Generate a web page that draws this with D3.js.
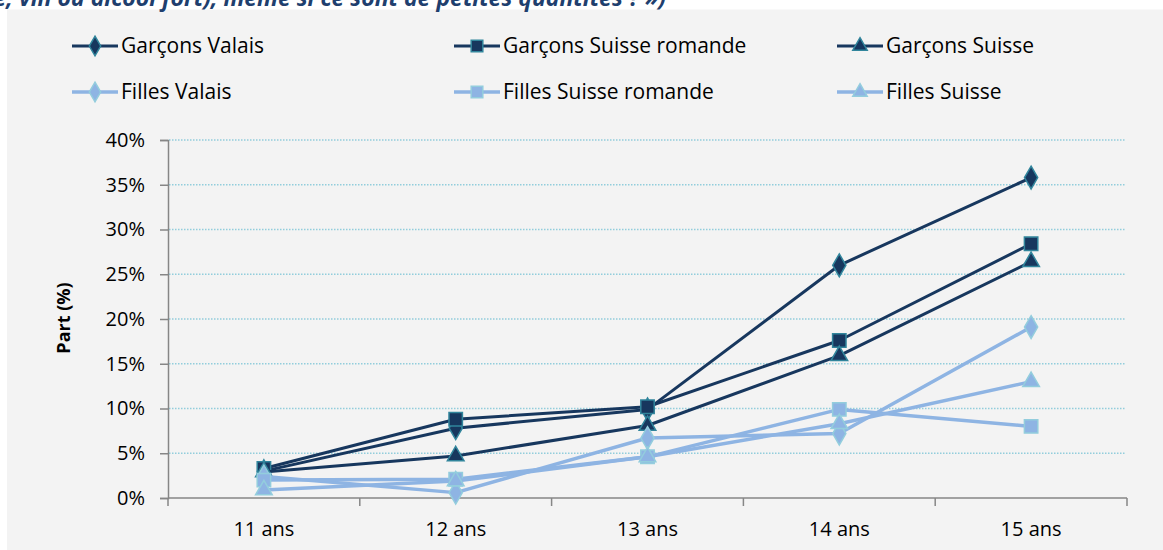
<!DOCTYPE html>
<html>
<head>
<meta charset="utf-8">
<script src="https://cdn.jsdelivr.net/npm/d3@7"></script>
<style>
  body { margin: 0; background: #fff; }
  svg { display: block; font-family: "Open Sans", sans-serif; }
</style>
</head>
<body>
<svg id="chart" width="1163" height="550"></svg>
<script>
const categories = ["11 ans", "12 ans", "13 ans", "14 ans", "15 ans"]
const yTicks = [0, 5, 10, 15, 20, 25, 30, 35, 40]

const garconsValais = [3.0, 7.8, 9.9, 26.0, 35.8]
const garconsRomande = [3.3, 8.8, 10.2, 17.6, 28.4]
const garconsSuisse = [2.9, 4.7, 8.1, 15.9, 26.4]
const fillesValais = [2.4, 0.6, 6.7, 7.2, 19.1]
const fillesRomande = [2.0, 2.1, 4.6, 9.9, 8.0]
const fillesSuisse = [0.9, 1.9, 4.6, 8.3, 13.0]

const seriesNames = ["Garçons Valais", "Garçons Suisse romande", "Garçons Suisse",
  "Filles Valais", "Filles Suisse romande", "Filles Suisse"]

const dark = { line: "#17375e", fill: "#17375e", stroke: "#31859c", width: 3 }
const light = { line: "#8eb4e3", fill: "#8eb4e3", stroke: "#93cddd", width: 3.5 }

const series = [
  { name: seriesNames[0], values: garconsValais, shape: d3.symbolDiamond, style: dark },
  { name: seriesNames[1], values: garconsRomande, shape: d3.symbolSquare, style: dark },
  { name: seriesNames[2], values: garconsSuisse, shape: d3.symbolTriangle, style: dark },
  { name: seriesNames[3], values: fillesValais, shape: d3.symbolDiamond, style: light },
  { name: seriesNames[4], values: fillesRomande, shape: d3.symbolSquare, style: light },
  { name: seriesNames[5], values: fillesSuisse, shape: d3.symbolTriangle, style: light }
]

const svg = d3.select("#chart")

// panel background and the end of the question text above it (cut off, as in the page)
svg.append("rect").attr("x", 7).attr("y", 9.5).attr("width", 1163).attr("height", 550).attr("fill", "#f3f3f3")
svg.append("text")
  .attr("x", 666).attr("y", 5.5)
  .attr("text-anchor", "end")
  .attr("font-size", 23).attr("font-weight", "bold").attr("font-style", "italic")
  .attr("fill", "#1f3f6e")
  .text("(bière, vin ou alcool fort), même si ce sont de petites quantités ? »)")

const x = d3.scaleBand().domain(categories).range([168, 1127])
const y = d3.scaleLinear().domain([0, 40]).range([498, 140])
const cx = (i) => x(categories[i]) + x.bandwidth() / 2

// gridlines
svg.append("g").selectAll("line")
  .data(yTicks.filter((t) => t > 0))
  .join("line")
  .attr("x1", 169).attr("x2", 1126)
  .attr("y1", (d) => y(d)).attr("y2", (d) => y(d))
  .attr("stroke", "#92cddc").attr("stroke-width", 1.3).attr("stroke-dasharray", "1.5,1.5")

// y axis
const gy = svg.append("g").attr("transform", "translate(168,0)")
  .call(d3.axisLeft(y).tickValues(yTicks).tickFormat((d) => d + "%").tickSize(8).tickPadding(15))
gy.select(".domain").attr("stroke", "#868686").attr("stroke-width", 1.5)
gy.selectAll(".tick line").attr("stroke", "#868686").attr("stroke-width", 1.5)
gy.selectAll(".tick text").attr("font-size", 20).attr("fill", "#000").attr("font-family", "Open Sans")

// x axis: labels centred, ticks on band boundaries
const gx = svg.append("g").attr("transform", "translate(0,498)")
  .call(d3.axisBottom(x).tickSize(0).tickPadding(24))
gx.select(".domain").remove()
gx.selectAll(".tick text").attr("font-size", 20).attr("fill", "#000").attr("font-family", "Open Sans")
svg.append("line").attr("x1", 168).attr("x2", 1127).attr("y1", 498).attr("y2", 498)
  .attr("stroke", "#868686").attr("stroke-width", 1.5)
const bounds = categories.map((c) => x(c)).concat([x.range()[1]])
svg.append("g").selectAll("line").data(bounds).join("line")
  .attr("x1", (d) => d).attr("x2", (d) => d).attr("y1", 498).attr("y2", 506)
  .attr("stroke", "#868686").attr("stroke-width", 1.5)

svg.append("text")
  .attr("transform", "translate(70,318) rotate(-90)")
  .attr("text-anchor", "middle")
  .attr("font-size", 18).attr("font-weight", "bold")
  .text("Part (%)")

const line = d3.line().x((d, i) => cx(i)).y((d) => y(d))
const symbolSize = (shape) => shape === d3.symbolDiamond ? 150 : shape === d3.symbolTriangle ? 120 : 180

series.forEach((s) => {
  const g = svg.append("g")
  g.append("path").attr("d", line(s.values))
    .attr("fill", "none").attr("stroke", s.style.line).attr("stroke-width", s.style.width)
    .attr("stroke-linejoin", "round")
  g.selectAll("path.mk").data(s.values).join("path").attr("class", "mk")
    .attr("transform", (d, i) => `translate(${cx(i)},${y(d)})`)
    .attr("d", d3.symbol().type(s.shape).size(symbolSize(s.shape)))
    .attr("fill", s.style.fill).attr("stroke", s.style.stroke).attr("stroke-width", 1.5)
})

// legend
const legendCols = [72, 454, 837]
const legendRows = [46, 92]
series.forEach((s, i) => {
  const lx = legendCols[i % 3]
  const ly = legendRows[Math.floor(i / 3)]
  const g = svg.append("g").attr("transform", `translate(${lx},${ly})`)
  g.append("line").attr("x1", 0).attr("x2", 46).attr("y1", 0).attr("y2", 0)
    .attr("stroke", s.style.line).attr("stroke-width", s.style.width)
  g.append("path").attr("transform", "translate(23,0)")
    .attr("d", d3.symbol().type(s.shape).size(symbolSize(s.shape) * 0.75))
    .attr("fill", s.style.fill).attr("stroke", s.style.stroke).attr("stroke-width", 1.5)
  g.append("text").attr("x", 49).attr("y", 7)
    .attr("font-size", 21).attr("fill", "#000")
    .text(s.name)
})
</script>
</body>
</html>
